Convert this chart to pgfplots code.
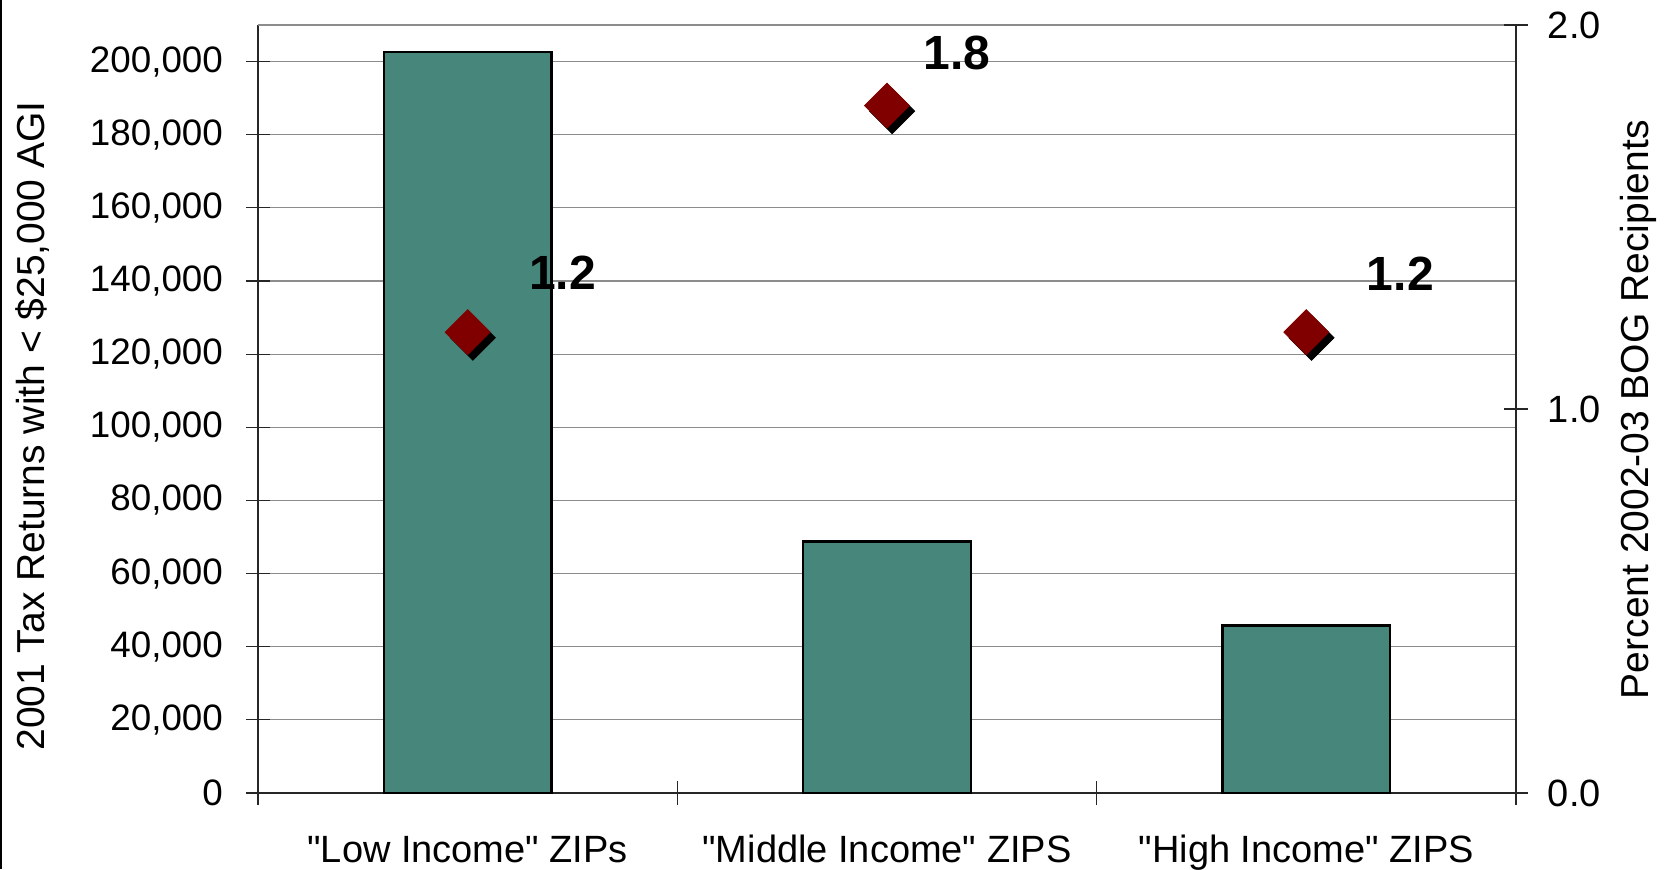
\documentclass[border=0pt]{standalone}
\usepackage{pgfplots}
\pgfplotsset{compat=1.18}
\usepackage{pgfplotstable}
\usepackage{fontspec}
\setmainfont{Liberation Sans}
\definecolor{barteal}{RGB}{71,134,122}
\definecolor{markred}{RGB}{128,0,0}

% tax returns with AGI < 25,000
\pgfplotstableread{
x returns
0 202600
1 68800
2 45800
}\returns
% percent BOG recipients, with label offsets (pt)
\pgfplotstableread{
x pct dx dy
0 1.2 47.4 29.5
1 1.79 35 26.4
2 1.2 47 29.2
}\bog

\begin{document}
\begin{tikzpicture}
\path[use as bounding box] (0pt,0pt) rectangle (835.5pt,434.5pt);
\draw[line width=1pt] (0.5pt,0pt) -- (0.5pt,434.5pt);
\pgfplotsset{
  base/.style={
    at={(129pt,38pt)}, anchor=south west,
    scale only axis, width=629pt, height=384pt,
    xmin=-0.5, xmax=2.5, ymin=0,
    tick label style={font=\fontsize{19}{22}\selectfont},
    /pgf/number format/assume math mode=true,
    label style={font=\fontsize{19.5}{22}\selectfont},
    tick align=center, major tick length=12pt, minor tick length=12pt,
  }
}
\begin{axis}[base,
  ymax=210000,
  axis x line*=bottom, axis y line*=left,
  axis line style={black!85, line width=0.6pt},
  xtick={0,1,2},
  xticklabels={\textquotedbl Low Income\textquotedbl{} ZIPs,
    \textquotedbl Middle Income\textquotedbl{} ZIPS,
    \textquotedbl High Income\textquotedbl{} ZIPS},
  major x tick style={draw=none},
  minor xtick={-0.5,0.5,1.5,2.5},
  minor x tick style={black!85, line width=0.6pt},
  xticklabel style={anchor=base, yshift=-28.7pt},
  ytick={0,20000,...,200000},
  y tick style={black!85, line width=0.6pt},
  scaled y ticks=false,
  yticklabel style={xshift=-8pt, font=\fontsize{18.4}{22}\selectfont,
    /pgf/number format/.cd, fixed, 1000 sep={,}},
  extra y ticks={210000}, extra y tick labels={},
  extra y tick style={major tick length=0pt, grid=major},
  ymajorgrids, grid style={gray!90, line width=0.6pt},
  ylabel={2001 Tax Returns with < \$25,000 AGI},
  ylabel style={at={(axis description cs:-0.179,0.478)}, anchor=center, rotate=0},
]
\addplot[ybar, bar width=0.4, fill=barteal, draw=black, line width=1.2pt] table[x=x,y=returns]{\returns};
\end{axis}
\begin{axis}[base,
  ymax=2,
  axis x line=none,
  axis y line*=right,
  axis line style={black!85, line width=0.6pt},
  y tick style={black!85, line width=0.6pt},
  ytick={0,1,2},
  yticklabel style={xshift=6.4pt, /pgf/number format/.cd, fixed, fixed zerofill, precision=1},
  ylabel={Percent 2002-03 BOG Recipients},
  ylabel style={at={(axis description cs:1.097,0.499)}, anchor=center},
  clip=false,
]
\addplot[only marks, mark=square*, mark size=7.95pt,
  mark options={xshift=2.6pt, yshift=-2.8pt, rotate=45, fill=black, draw=black}]
  table[x=x,y=pct]{\bog};
\addplot[only marks, mark=square*, mark size=7.95pt,
  mark options={rotate=45, fill=markred, draw=markred},
  visualization depends on={\thisrow{dx} \as \dx},
  visualization depends on={\thisrow{dy} \as \dy},
  nodes near coords={\pgfmathprintnumber[fixed, fixed zerofill, precision=1]{\pgfplotspointmeta}},
  every node near coord/.append style={anchor=center, xshift=\dx pt, yshift=\dy pt,
    font=\bfseries\fontsize{24}{26}\selectfont, /pgf/number format/assume math mode=true},
  ] table[x=x,y=pct]{\bog};
\end{axis}
\end{tikzpicture}
\end{document}
